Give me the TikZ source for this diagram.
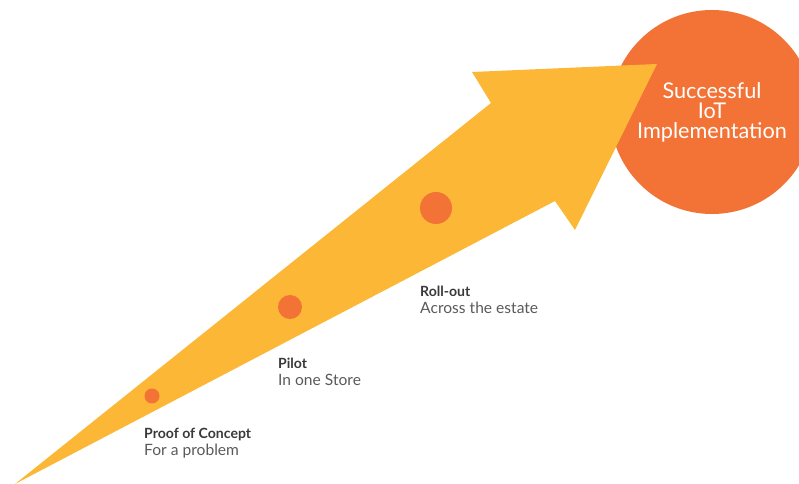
\documentclass[tikz,border=0pt]{standalone}
\usepackage{fontspec}
\setmainfont{Lato}
\usepackage{tikz}
\usetikzlibrary{positioning}
\definecolor{arrowyellow}{HTML}{FBB735}
\definecolor{dotorange}{HTML}{F37336}
\definecolor{labeldark}{HTML}{3A3A3A}
\definecolor{labelgray}{HTML}{5A5A5A}
\tikzstyle{stage} = [circle, fill=dotorange, inner sep=0pt]
\tikzstyle{goal} = [circle, fill=dotorange, minimum size=6.12cm, inner sep=0pt, text=white, align=center, font=\fontsize{18.5}{17}\selectfont]
\tikzstyle{label} = [anchor=north west, inner sep=0pt, align=left, font=\fontsize{12}{14.5}\selectfont]
\newcommand{\stagename}[1]{\textcolor{labeldark}{\bfseries #1}}
\newcommand{\stagenote}[1]{\textcolor{labelgray}{\fontsize{13.3}{14.5}\selectfont #1}}

\begin{document}
\begin{tikzpicture}[x=0.03cm, y=-0.03cm]
				\useasboundingbox (0,0) rectangle (799,484);
				\clip (0,0) rectangle (799,484);
				
				\node(goal1) [goal] at (712,112) {Successful\\IoT\\Implementation};
				
				\coordinate(tail) at (15,484);
				\coordinate(notch1) at (491,103);
				\coordinate(barb1) at (472,72);
				\coordinate(tip) at (657,64);
				\coordinate(barb2) at (575,230);
				\coordinate(notch2) at (555,201);
				\fill[arrowyellow] (tail) -- (notch1) -- (barb1) -- (tip) -- (barb2) -- (notch2) -- cycle;
				
				\node(pro1) [stage, minimum size=0.45cm] at (152,396) {};
				\node(pro2) [stage, minimum size=0.72cm] at (290,307) {};
				\node(pro3) [stage, minimum size=0.96cm] at (436,208) {};
				
				\node(in1) [label] at (144,428) {\stagename{Proof of Concept}\\\stagenote{For a problem}};
				\node(in2) [label] at (278,358) {\stagename{Pilot}\\\stagenote{In one Store}};
				\node(in3) [label] at (420,286) {\stagename{Roll-out}\\\stagenote{Across the estate}};
				
\end{tikzpicture}
\end{document}
